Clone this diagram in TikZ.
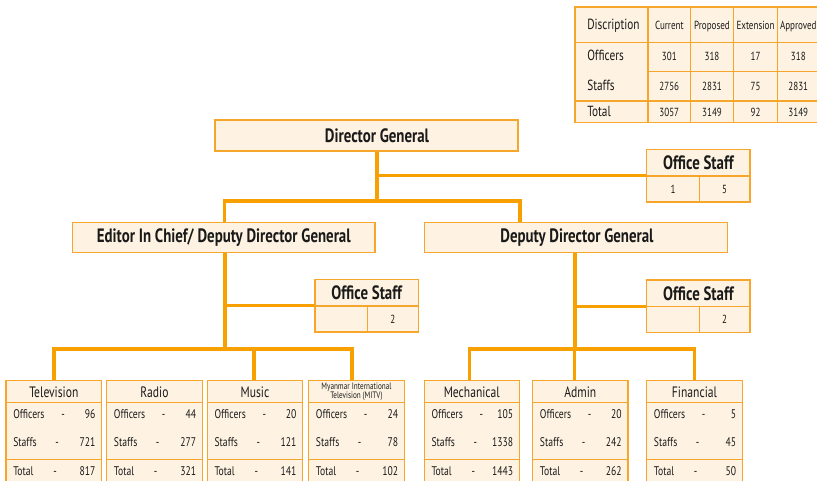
\documentclass[tikz,border=0pt]{standalone}
\usepackage{fontspec}
\setmainfont[FakeStretch=0.77]{PT Sans}
\usetikzlibrary{fit}
\definecolor{lor}{HTML}{F7A000}
\definecolor{bor}{HTML}{F6A62A}
\definecolor{cream}{HTML}{FEF3E2}
\definecolor{ink}{HTML}{1A1A1A}
\newcommand\fsz[1]{\fontsize{#1}{#1}\selectfont}
\tikzset{
  conn/.style={draw=lor, line width=2.6pt},
  frame/.style={draw=bor, fill=cream, line width=1.15pt, inner sep=0pt},
  gridline/.style={draw=bor, line width=1.15pt},
  txt/.style={inner sep=0pt, text=ink},
  big/.style={txt, font=\fsz{14.5}\bfseries},
  hd/.style={txt, font=\fsz{11.3}},
  row/.style={txt, font=\fsz{9.4}},
  tnum/.style={txt, font=\fsz{8.8}},
}
% unit box: name, L, R, header, officers, staffs, total
\newcommand\unitbox[7]{%
  \node[frame, fit={(#2,380.7) (#3,490)}] (#1) {};
  \draw[gridline] (#2,402.7) -- (#3,402.7);
  \draw[gridline] (#2,459.3) -- (#3,459.3);
  \node[hd] (#1-h) at ({(#2+#3)/2},392.5) {#4};
  \node[row, anchor=mid west] (#1-o) at ({#2+7},415) {Officers};
  \node[row, anchor=mid] (#1-od) at ({#2+57},415) {-};
  \node[row, anchor=mid east] (#1-on) at ({#3-6},415) {#5};
  \node[row, anchor=mid west] (#1-s) at ({#2+7},443.5) {Staffs};
  \node[row, anchor=mid] (#1-sd) at ({#2+51},443.5) {-};
  \node[row, anchor=mid east] (#1-sn) at ({#3-6},443.5) {#6};
  \node[row, anchor=mid west] (#1-t) at ({#2+7},472.5) {Total};
  \node[row, anchor=mid] (#1-td) at ({#2+49},472.5) {-};
  \node[row, anchor=mid east] (#1-tn) at ({#3-6},472.5) {#7};
}
% office staff box: name, L, T, R, M, B
\newcommand\officebox[6]{%
  \node[frame, fit={(#2,#3) (#4,#6)}] (#1) {};
  \draw[gridline] (#2,#5) -- (#4,#5);
  \draw[gridline] (699.3-646.7+#2,#5) -- (699.3-646.7+#2,#6);
  \node[big] (#1-h) at ({(#2+#4)/2},{(#3+#5)/2}) {Office Staff};
}
\begin{document}
\begin{tikzpicture}[x=0.75pt,y=-0.75pt]
\useasboundingbox (0,0) rectangle (817,480);
\clip (0,0) rectangle (817,480);

% ---- summary table ----
\node[frame, fit={(575,7) (820,122.7)}] (tab) {};
\draw[gridline] (575,42.7) -- (820,42.7);
\draw[gridline] (648,71.7) -- (820,71.7);
\draw[gridline] (575,101) -- (820,101);
\foreach \xx in {648,690.7,733.3,777.7}{\draw[gridline] (\xx,7) -- (\xx,122.7);}
\node[txt, font=\fsz{11}, anchor=mid west] (tdesc) at (587,26) {Discription};
\node[tnum, anchor=mid] (tc1) at (669.3,26) {Current};
\node[tnum, anchor=mid] (tc2) at (712,26) {Proposed};
\node[tnum, anchor=mid] (tc3) at (755.5,26) {Extension};
\node[tnum, anchor=mid] (tc4) at (798.3,26) {Approved};
\node[txt, font=\fsz{11}, anchor=mid west] (tro) at (587,57.5) {Officers};
\node[txt, font=\fsz{11}, anchor=mid west] (trs) at (587,87) {Staffs};
\node[txt, font=\fsz{11}, anchor=mid west] (trt) at (587,113) {Total};
\node[tnum, anchor=mid] (o1) at (669.3,57.5) {301};
\node[tnum, anchor=mid] (o2) at (712,57.5) {318};
\node[tnum, anchor=mid] (o3) at (755.5,57.5) {17};
\node[tnum, anchor=mid] (o4) at (798.3,57.5) {318};
\node[tnum, anchor=mid] (s1) at (669.3,87) {2756};
\node[tnum, anchor=mid] (s2) at (712,87) {2831};
\node[tnum, anchor=mid] (s3) at (755.5,87) {75};
\node[tnum, anchor=mid] (s4) at (798.3,87) {2831};
\node[tnum, anchor=mid] (u1) at (669.3,113) {3057};
\node[tnum, anchor=mid] (u2) at (712,113) {3149};
\node[tnum, anchor=mid] (u3) at (755.5,113) {92};
\node[tnum, anchor=mid] (u4) at (798.3,113) {3149};

% ---- main boxes ----
\node[frame, fit={(215,120) (518,151)}] (dg) {};
\node[big] (dg-t) at (377,135.5) {Director General};
\node[frame, fit={(72.7,222.7) (375,252.7)}] (ed) {};
\node[big] (ed-t) at (ed.center) {Editor In Chief/ Deputy Director General};
\node[frame, fit={(424.3,222.7) (727.3,252.7)}] (ddg) {};
\node[big] (ddg-t) at (577,237.7) {Deputy Director General};

\officebox{os1}{646.7}{149.3}{750}{176}{202}
\node[tnum, anchor=mid] (os1-c) at (673,190) {1};
\node[tnum, anchor=mid] (os1-b) at (724.7,190) {5};
\officebox{os2}{315}{279.3}{418.3}{306}{332}
\node[tnum, anchor=mid] (os2-b) at (392.8,320) {2};
\officebox{os3}{646.7}{280}{750}{306.7}{332.5}
\node[tnum, anchor=mid] (os3-b) at (724.7,320) {2};

% ---- unit boxes ----
\unitbox{tv}{6}{101.7}{Television}{96}{721}{817}
\unitbox{ra}{106.7}{202.3}{Radio}{44}{277}{321}
\unitbox{mu}{207.3}{302.7}{Music}{20}{121}{141}
\unitbox{mi}{308.7}{404.3}{}{24}{78}{102}
\node[txt, font=\fsz{7}, align=center] (mi-h2) at (356.5,391.5) {Myanmar International\\[-0.5pt]Television (MITV)};
\unitbox{me}{424.3}{519.3}{Mechanical}{105}{1338}{1443}
\unitbox{ad}{532.7}{628}{Admin}{20}{242}{262}
\unitbox{fi}{646.7}{742.3}{Financial}{5}{45}{50}

% ---- connectors ----
\coordinate (j1) at (377,201);
\coordinate (j2) at (520,201);
\coordinate (lb) at (225,349);
\coordinate (lbR) at (352,349);
\coordinate (rbL) at (469.3,349);
\coordinate (rbM) at (575,349);
\coordinate (rbA) at (574.5,349);
\coordinate (rbR) at (694.5,349);
\draw[conn] (dg.south -| j1) -- (j1);
\draw[conn] (os1.west) -- (os1.west -| j1);
\draw[conn] (ed.north -| 224.3,0) |- (j2) -- (j2 |- ddg.north);
\draw[conn] (ed.south -| lb) -- (lb);
\draw[conn] (os2.west) -- (os2.west -| lb);
\draw[conn] (tv.north -| 54,0) |- (lbR) -- (lbR |- mi.north);
\draw[conn] (ra.north -| 154.5,0) -- (ra.north -| 154.5,0 |- lb);
\draw[conn] (mu.north -| 254,0) -- ++(0,-31.7);
\draw[conn] (ddg.south -| rbM) -- (rbM);
\draw[conn] (os3.west) -- (os3.west -| rbM);
\draw[conn] (me.north -| rbL) |- (rbR) -- (fi.north -| rbR);
\draw[conn] (ad.north -| rbA) -- (rbA);
\end{tikzpicture}
\end{document}
